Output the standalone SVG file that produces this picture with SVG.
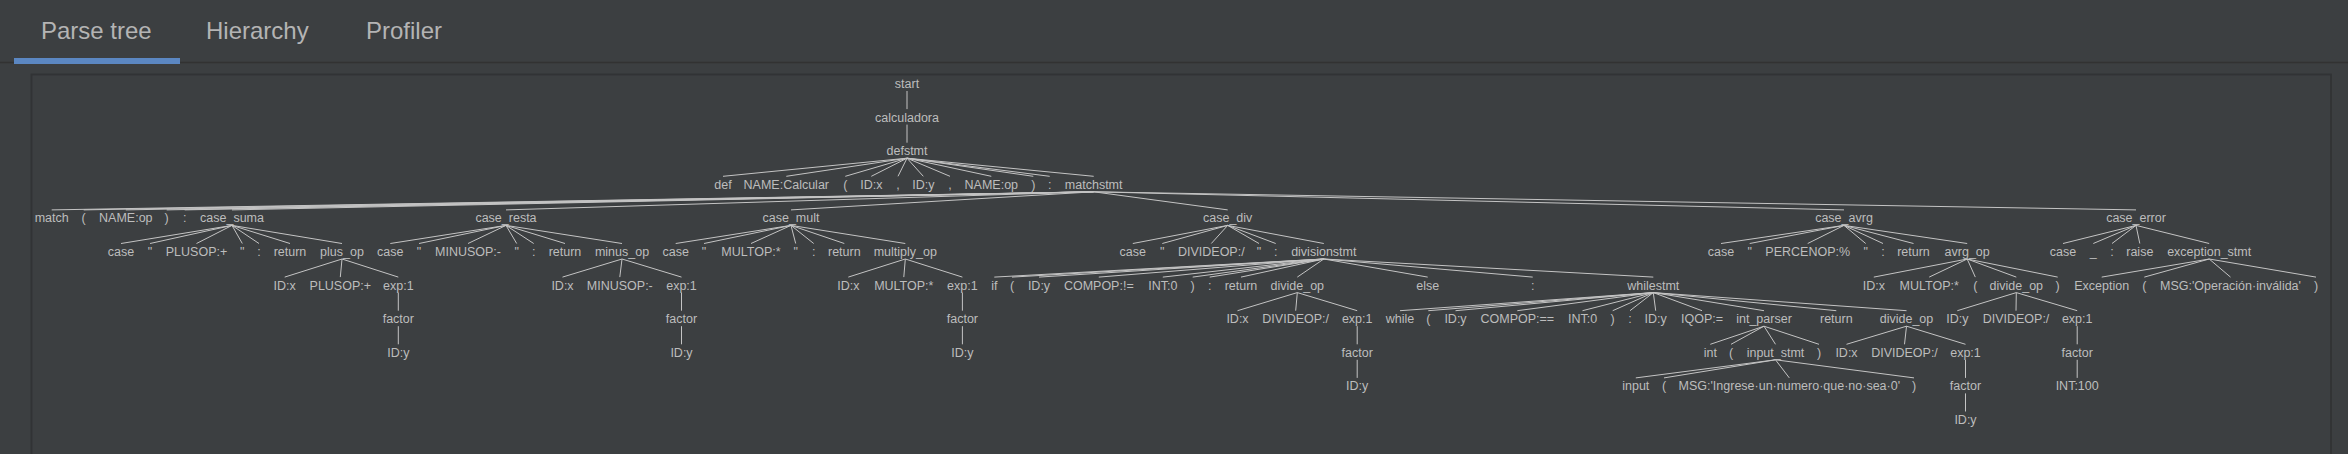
<svg xmlns="http://www.w3.org/2000/svg" width="2348" height="454" viewBox="0 0 2348 454">
<style>
.t{font-family:"Liberation Sans",Arial,sans-serif;font-size:12.5px;fill:#bdbdbd;text-anchor:middle}
.tab{font-family:"Liberation Sans",Arial,sans-serif;font-size:24px;fill:#b4b4b4}
.e{fill:none;stroke:#c4c4c4;stroke-width:1}
</style>
<rect width="2348" height="454" fill="#3c3f41"/>
<g id="tabs">
<line x1="0" y1="62.5" x2="2348" y2="62.5" stroke="#323232" stroke-width="1.5"/>
<rect x="14" y="58" width="166" height="6" fill="#5b87c2"/>
<text class="tab" x="41" y="38.5" fill="#bfbfbf">Parse tree</text>
<text class="tab" x="206" y="38.5">Hierarchy</text>
<text class="tab" x="366" y="38.5">Profiler</text>
</g>
<rect x="31.5" y="74.5" width="2299.5" height="400" fill="none" stroke="#313335" stroke-width="1.8"/>
<g id="connectors" class="e">
<path class="e" d="M907 91V109.1M907 124.6V142.7"/>
<path class="e" d="M907 158.2L723 176.3M907 158.2L786.3 176.3M907 158.2L845.3 176.3M907 158.2L871.3 176.3M907 158.2L898 176.3M907 158.2L923.3 176.3M907 158.2L950 176.3M907 158.2L991.3 176.3M907 158.2L1033.3 176.3M907 158.2L1049.7 176.3M907 158.2L1093.7 176.3"/>
<path class="e" d="M1093.7 191.8L51.7 209.9M1093.7 191.8L83.7 209.9M1093.7 191.8L125.8 209.9M1093.7 191.8L166.7 209.9M1093.7 191.8L184.7 209.9M1093.7 191.8L232 209.9M1093.7 191.8L506 209.9M1093.7 191.8L791 209.9M1093.7 191.8L1227.7 209.9M1093.7 191.8L1844 209.9M1093.7 191.8L2136 209.9"/>
<path class="e" d="M232 225.4L121 243.5M232 225.4L150 243.5M232 225.4L196.5 243.5M232 225.4L242.3 243.5M232 225.4L259 243.5M232 225.4L290 243.5M232 225.4L342 243.5"/>
<path class="e" d="M506 225.4L390.3 243.5M506 225.4L419 243.5M506 225.4L468 243.5M506 225.4L516.7 243.5M506 225.4L533.7 243.5M506 225.4L565 243.5M506 225.4L622 243.5"/>
<path class="e" d="M791 225.4L675.7 243.5M791 225.4L704 243.5M791 225.4L751 243.5M791 225.4L795.7 243.5M791 225.4L813.7 243.5M791 225.4L844.3 243.5M791 225.4L905.3 243.5"/>
<path class="e" d="M1227.7 225.4L1132.8 243.5M1227.7 225.4L1162.3 243.5M1227.7 225.4L1211.3 243.5M1227.7 225.4L1259 243.5M1227.7 225.4L1275.7 243.5M1227.7 225.4L1323.8 243.5"/>
<path class="e" d="M1844 225.4L1721 243.5M1844 225.4L1749.7 243.5M1844 225.4L1807.7 243.5M1844 225.4L1865.7 243.5M1844 225.4L1883 243.5M1844 225.4L1913.5 243.5M1844 225.4L1967.2 243.5"/>
<path class="e" d="M2136 225.4L2063 243.5M2136 225.4L2093.3 243.5M2136 225.4L2112 243.5M2136 225.4L2139.8 243.5M2136 225.4L2209.2 243.5"/>
<path class="e" d="M342 259L284.7 277.1M342 259L340.3 277.1M342 259L398.3 277.1"/>
<path class="e" d="M622 259L562.5 277.1M622 259L619.8 277.1M622 259L681.5 277.1"/>
<path class="e" d="M905.3 259L848.3 277.1M905.3 259L903.8 277.1M905.3 259L962.4 277.1"/>
<path class="e" d="M1323.8 259L994.3 277.1M1323.8 259L1012 277.1M1323.8 259L1039 277.1M1323.8 259L1098.8 277.1M1323.8 259L1162.8 277.1M1323.8 259L1192.7 277.1M1323.8 259L1209.7 277.1M1323.8 259L1241 277.1M1323.8 259L1297.3 277.1M1323.8 259L1427.7 277.1M1323.8 259L1532.7 277.1M1323.8 259L1653.3 277.1"/>
<path class="e" d="M1967.2 259L1873.8 277.1M1967.2 259L1929.2 277.1M1967.2 259L1975.3 277.1M1967.2 259L2016.3 277.1M1967.2 259L2057.7 277.1"/>
<path class="e" d="M2209.2 259L2101.7 277.1M2209.2 259L2144.3 277.1M2209.2 259L2230.5 277.1M2209.2 259L2316 277.1"/>
<path class="e" d="M398.3 292.6V310.7M681.5 292.6V310.7M962.4 292.6V310.7"/>
<path class="e" d="M1297.3 292.6L1237.5 310.7M1297.3 292.6L1295.7 310.7M1297.3 292.6L1357.2 310.7"/>
<path class="e" d="M1653.3 292.6L1400 310.7M1653.3 292.6L1428.3 310.7M1653.3 292.6L1455.5 310.7M1653.3 292.6L1517.3 310.7M1653.3 292.6L1582.5 310.7M1653.3 292.6L1612.7 310.7M1653.3 292.6L1630 310.7M1653.3 292.6L1655.7 310.7M1653.3 292.6L1702 310.7M1653.3 292.6L1764 310.7M1653.3 292.6L1836.3 310.7M1653.3 292.6L1906.5 310.7"/>
<path class="e" d="M2016.3 292.6L1957.3 310.7M2016.3 292.6L2016 310.7M2016.3 292.6L2077.2 310.7"/>
<path class="e" d="M398.3 326.2V344.3M681.5 326.2V344.3M962.4 326.2V344.3M1357.2 326.2V344.3M2077.2 326.2V344.3"/>
<path class="e" d="M1764 326.2L1710.3 344.3M1764 326.2L1731 344.3M1764 326.2L1775.5 344.3M1764 326.2L1819 344.3"/>
<path class="e" d="M1906.5 326.2L1846.5 344.3M1906.5 326.2L1904.5 344.3M1906.5 326.2L1965.5 344.3"/>
<path class="e" d="M1357.2 359.8V377.9M1965.5 359.8V377.9M2077.2 359.8V377.9"/>
<path class="e" d="M1775.5 359.8L1635.8 377.9M1775.5 359.8L1664 377.9M1775.5 359.8L1789.3 377.9M1775.5 359.8L1914 377.9"/>
<path class="e" d="M1965.5 393.4V411.5"/>
</g>
<g id="n_start"><text class="t" x="907" y="88">start</text></g>
<g id="n_calculadora"><text class="t" x="907" y="121.6">calculadora</text></g>
<g id="n_defstmt"><text class="t" x="907" y="155.2">defstmt</text></g>
<g id="n_def"><text class="t" x="723" y="188.8">def</text></g>
<g id="n_name_calcular"><text class="t" x="786.3" y="188.8">NAME:Calcular</text></g>
<g id="n_lp1"><text class="t" x="845.3" y="188.8">(</text></g>
<g id="n_idx1"><text class="t" x="871.3" y="188.8">ID:x</text></g>
<g id="n_comma1"><text class="t" x="898" y="188.8">,</text></g>
<g id="n_idy1"><text class="t" x="923.3" y="188.8">ID:y</text></g>
<g id="n_comma2"><text class="t" x="950" y="188.8">,</text></g>
<g id="n_name_op1"><text class="t" x="991.3" y="188.8">NAME:op</text></g>
<g id="n_rp1"><text class="t" x="1033.3" y="188.8">)</text></g>
<g id="n_colon1"><text class="t" x="1049.7" y="188.8">:</text></g>
<g id="n_matchstmt"><text class="t" x="1093.7" y="188.8">matchstmt</text></g>
<g id="n_match"><text class="t" x="51.7" y="222.4">match</text></g>
<g id="n_lp2"><text class="t" x="83.7" y="222.4">(</text></g>
<g id="n_name_op2"><text class="t" x="125.8" y="222.4">NAME:op</text></g>
<g id="n_rp2"><text class="t" x="166.7" y="222.4">)</text></g>
<g id="n_colon2"><text class="t" x="184.7" y="222.4">:</text></g>
<g id="n_case_suma"><text class="t" x="232" y="222.4">case_suma</text></g>
<g id="n_case_resta"><text class="t" x="506" y="222.4">case_resta</text></g>
<g id="n_case_mult"><text class="t" x="791" y="222.4">case_mult</text></g>
<g id="n_case_div"><text class="t" x="1227.7" y="222.4">case_div</text></g>
<g id="n_case_avrg"><text class="t" x="1844" y="222.4">case_avrg</text></g>
<g id="n_case_error"><text class="t" x="2136" y="222.4">case_error</text></g>
<g id="n_s_case"><text class="t" x="121" y="256">case</text></g>
<g id="n_s_q1"><text class="t" x="150" y="256">"</text></g>
<g id="n_s_plusop"><text class="t" x="196.5" y="256">PLUSOP:+</text></g>
<g id="n_s_q2"><text class="t" x="242.3" y="256">"</text></g>
<g id="n_s_colon"><text class="t" x="259" y="256">:</text></g>
<g id="n_s_return"><text class="t" x="290" y="256">return</text></g>
<g id="n_plus_op"><text class="t" x="342" y="256">plus_op</text></g>
<g id="n_r_case"><text class="t" x="390.3" y="256">case</text></g>
<g id="n_r_q1"><text class="t" x="419" y="256">"</text></g>
<g id="n_r_minusop"><text class="t" x="468" y="256">MINUSOP:-</text></g>
<g id="n_r_q2"><text class="t" x="516.7" y="256">"</text></g>
<g id="n_r_colon"><text class="t" x="533.7" y="256">:</text></g>
<g id="n_r_return"><text class="t" x="565" y="256">return</text></g>
<g id="n_minus_op"><text class="t" x="622" y="256">minus_op</text></g>
<g id="n_m_case"><text class="t" x="675.7" y="256">case</text></g>
<g id="n_m_q1"><text class="t" x="704" y="256">"</text></g>
<g id="n_m_multop"><text class="t" x="751" y="256">MULTOP:*</text></g>
<g id="n_m_q2"><text class="t" x="795.7" y="256">"</text></g>
<g id="n_m_colon"><text class="t" x="813.7" y="256">:</text></g>
<g id="n_m_return"><text class="t" x="844.3" y="256">return</text></g>
<g id="n_multiply_op"><text class="t" x="905.3" y="256">multiply_op</text></g>
<g id="n_d_case"><text class="t" x="1132.8" y="256">case</text></g>
<g id="n_d_q1"><text class="t" x="1162.3" y="256">"</text></g>
<g id="n_d_divideop"><text class="t" x="1211.3" y="256">DIVIDEOP:/</text></g>
<g id="n_d_q2"><text class="t" x="1259" y="256">"</text></g>
<g id="n_d_colon"><text class="t" x="1275.7" y="256">:</text></g>
<g id="n_divisionstmt"><text class="t" x="1323.8" y="256">divisionstmt</text></g>
<g id="n_a_case"><text class="t" x="1721" y="256">case</text></g>
<g id="n_a_q1"><text class="t" x="1749.7" y="256">"</text></g>
<g id="n_a_percenop"><text class="t" x="1807.7" y="256">PERCENOP:%</text></g>
<g id="n_a_q2"><text class="t" x="1865.7" y="256">"</text></g>
<g id="n_a_colon"><text class="t" x="1883" y="256">:</text></g>
<g id="n_a_return"><text class="t" x="1913.5" y="256">return</text></g>
<g id="n_avrg_op"><text class="t" x="1967.2" y="256">avrg_op</text></g>
<g id="n_e_case"><text class="t" x="2063" y="256">case</text></g>
<g id="n_e_underscore"><text class="t" x="2093.3" y="256">_</text></g>
<g id="n_e_colon"><text class="t" x="2112" y="256">:</text></g>
<g id="n_e_raise"><text class="t" x="2139.8" y="256">raise</text></g>
<g id="n_exception_stmt"><text class="t" x="2209.2" y="256">exception_stmt</text></g>
<g id="n_p_idx"><text class="t" x="284.7" y="289.6">ID:x</text></g>
<g id="n_p_plusop"><text class="t" x="340.3" y="289.6">PLUSOP:+</text></g>
<g id="n_p_exp"><text class="t" x="398.3" y="289.6">exp:1</text></g>
<g id="n_mi_idx"><text class="t" x="562.5" y="289.6">ID:x</text></g>
<g id="n_mi_minusop"><text class="t" x="619.8" y="289.6">MINUSOP:-</text></g>
<g id="n_mi_exp"><text class="t" x="681.5" y="289.6">exp:1</text></g>
<g id="n_mu_idx"><text class="t" x="848.3" y="289.6">ID:x</text></g>
<g id="n_mu_multop"><text class="t" x="903.8" y="289.6">MULTOP:*</text></g>
<g id="n_mu_exp"><text class="t" x="962.4" y="289.6">exp:1</text></g>
<g id="n_dv_if"><text class="t" x="994.3" y="289.6">if</text></g>
<g id="n_dv_lp"><text class="t" x="1012" y="289.6">(</text></g>
<g id="n_dv_idy"><text class="t" x="1039" y="289.6">ID:y</text></g>
<g id="n_dv_compop"><text class="t" x="1098.8" y="289.6">COMPOP:!=</text></g>
<g id="n_dv_int0"><text class="t" x="1162.8" y="289.6">INT:0</text></g>
<g id="n_dv_rp"><text class="t" x="1192.7" y="289.6">)</text></g>
<g id="n_dv_colon1"><text class="t" x="1209.7" y="289.6">:</text></g>
<g id="n_dv_return"><text class="t" x="1241" y="289.6">return</text></g>
<g id="n_dv_divide_op"><text class="t" x="1297.3" y="289.6">divide_op</text></g>
<g id="n_dv_else"><text class="t" x="1427.7" y="289.6">else</text></g>
<g id="n_dv_colon2"><text class="t" x="1532.7" y="289.6">:</text></g>
<g id="n_whilestmt"><text class="t" x="1653.3" y="289.6">whilestmt</text></g>
<g id="n_av_idx"><text class="t" x="1873.8" y="289.6">ID:x</text></g>
<g id="n_av_multop"><text class="t" x="1929.2" y="289.6">MULTOP:*</text></g>
<g id="n_av_lp"><text class="t" x="1975.3" y="289.6">(</text></g>
<g id="n_av_divide_op"><text class="t" x="2016.3" y="289.6">divide_op</text></g>
<g id="n_av_rp"><text class="t" x="2057.7" y="289.6">)</text></g>
<g id="n_ex_exception"><text class="t" x="2101.7" y="289.6">Exception</text></g>
<g id="n_ex_lp"><text class="t" x="2144.3" y="289.6">(</text></g>
<g id="n_ex_msg"><text class="t" x="2230.5" y="289.6">MSG:'Operación·inválida'</text></g>
<g id="n_ex_rp"><text class="t" x="2316" y="289.6">)</text></g>
<g id="n_p_factor"><text class="t" x="398.3" y="323.2">factor</text></g>
<g id="n_mi_factor"><text class="t" x="681.5" y="323.2">factor</text></g>
<g id="n_mu_factor"><text class="t" x="962.4" y="323.2">factor</text></g>
<g id="n_dd_idx"><text class="t" x="1237.5" y="323.2">ID:x</text></g>
<g id="n_dd_divideop"><text class="t" x="1295.7" y="323.2">DIVIDEOP:/</text></g>
<g id="n_dd_exp"><text class="t" x="1357.2" y="323.2">exp:1</text></g>
<g id="n_w_while"><text class="t" x="1400" y="323.2">while</text></g>
<g id="n_w_lp"><text class="t" x="1428.3" y="323.2">(</text></g>
<g id="n_w_idy1"><text class="t" x="1455.5" y="323.2">ID:y</text></g>
<g id="n_w_compop"><text class="t" x="1517.3" y="323.2">COMPOP:==</text></g>
<g id="n_w_int0"><text class="t" x="1582.5" y="323.2">INT:0</text></g>
<g id="n_w_rp"><text class="t" x="1612.7" y="323.2">)</text></g>
<g id="n_w_colon"><text class="t" x="1630" y="323.2">:</text></g>
<g id="n_w_idy2"><text class="t" x="1655.7" y="323.2">ID:y</text></g>
<g id="n_w_iqop"><text class="t" x="1702" y="323.2">IQOP:=</text></g>
<g id="n_int_parser"><text class="t" x="1764" y="323.2">int_parser</text></g>
<g id="n_w_return"><text class="t" x="1836.3" y="323.2">return</text></g>
<g id="n_w_divide_op"><text class="t" x="1906.5" y="323.2">divide_op</text></g>
<g id="n_ad_idy"><text class="t" x="1957.3" y="323.2">ID:y</text></g>
<g id="n_ad_divideop"><text class="t" x="2016" y="323.2">DIVIDEOP:/</text></g>
<g id="n_ad_exp"><text class="t" x="2077.2" y="323.2">exp:1</text></g>
<g id="n_p_idy"><text class="t" x="398.3" y="356.8">ID:y</text></g>
<g id="n_mi_idy"><text class="t" x="681.5" y="356.8">ID:y</text></g>
<g id="n_mu_idy"><text class="t" x="962.4" y="356.8">ID:y</text></g>
<g id="n_dd_factor"><text class="t" x="1357.2" y="356.8">factor</text></g>
<g id="n_ip_int"><text class="t" x="1710.3" y="356.8">int</text></g>
<g id="n_ip_lp"><text class="t" x="1731" y="356.8">(</text></g>
<g id="n_input_stmt"><text class="t" x="1775.5" y="356.8">input_stmt</text></g>
<g id="n_ip_rp"><text class="t" x="1819" y="356.8">)</text></g>
<g id="n_wd_idx"><text class="t" x="1846.5" y="356.8">ID:x</text></g>
<g id="n_wd_divideop"><text class="t" x="1904.5" y="356.8">DIVIDEOP:/</text></g>
<g id="n_wd_exp"><text class="t" x="1965.5" y="356.8">exp:1</text></g>
<g id="n_ad_factor"><text class="t" x="2077.2" y="356.8">factor</text></g>
<g id="n_dd_idy"><text class="t" x="1357.2" y="390.4">ID:y</text></g>
<g id="n_is_input"><text class="t" x="1635.8" y="390.4">input</text></g>
<g id="n_is_lp"><text class="t" x="1664" y="390.4">(</text></g>
<g id="n_is_msg"><text class="t" x="1789.3" y="390.4">MSG:'Ingrese·un·numero·que·no·sea·0'</text></g>
<g id="n_is_rp"><text class="t" x="1914" y="390.4">)</text></g>
<g id="n_wd_factor"><text class="t" x="1965.5" y="390.4">factor</text></g>
<g id="n_ad_int100"><text class="t" x="2077.2" y="390.4">INT:100</text></g>
<g id="n_wd_idy"><text class="t" x="1965.5" y="424">ID:y</text></g>
</svg>
